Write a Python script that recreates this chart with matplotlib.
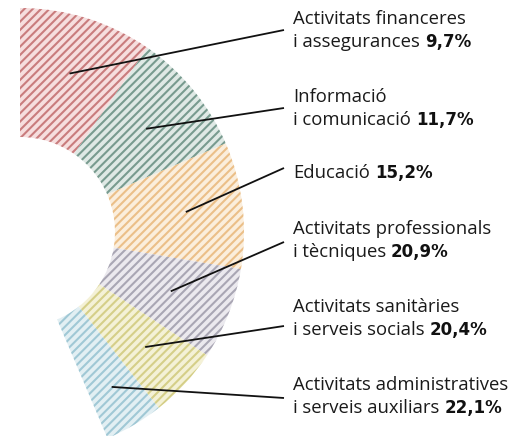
import numpy as np
import matplotlib
matplotlib.use("Agg")
import matplotlib.pyplot as plt

# ---- data ----
line1 = ["Activitats financeres", "Informació", "Educació", "Activitats professionals",
         "Activitats sanitàries", "Activitats administratives"]
line2 = ["i assegurances", "i comunicació", None, "i tècniques",
         "i serveis socials", "i serveis auxiliars"]
values = [9.7, 11.7, 15.2, 20.9, 20.4, 22.1]
value_labels = ["9,7%", "11,7%", "15,2%", "20,9%", "20,4%", "22,1%"]

# slice sizes as drawn in the graphic (top to bottom)
slice_sizes = values[::-1]

stripe_colors = ["#c97c7d", "#789b8f", "#ebbf88", "#a9a6b4", "#d5cf88", "#a0c8d5"]
bg_colors = ["#f6dede", "#dfe9e5", "#fbeedc", "#ebe9ee", "#f4f1d6", "#e2eff3"]

W, H = 524, 436
plt.rcParams["hatch.linewidth"] = 1.5
fig = plt.figure(figsize=(W / 100, H / 100), dpi=100)
ax = fig.add_axes([0, 0, 1, 1])

center = (20, H - 232)
r_out, r_in = 224, 95
span_deg = 157.0
frac = np.array(slice_sizes) / 100.0 * span_deg / 360.0

wedges, _ = ax.pie(frac, normalize=False, startangle=90, counterclock=False,
                   center=center, radius=r_out, colors=bg_colors,
                   wedgeprops=dict(width=r_out - r_in, linewidth=0))
for w, sc in zip(wedges, stripe_colors):
    w.set_hatch("////")
    w.set_edgecolor(sc)
    w.set_linewidth(0)
ax.set_xlim(0, W)
ax.set_ylim(0, H)
ax.set_aspect("equal")
ax.axis("off")

# leader lines and labels
label_x = 293
line_end_x = 284
line2_baselines = [47, 125, 178, 257, 335, 413]
leader_end_y = [30, 108, 168, 242, 326, 398]
leader_r = [166, 163, 167, 162, 170, 180]

fs = 13.3
fam = ["Open Sans", "DejaVu Sans"]
for i, w in enumerate(wedges):
    mid = np.deg2rad((w.theta1 + w.theta2) / 2)
    sx = center[0] + leader_r[i] * np.cos(mid)
    sy = center[1] + leader_r[i] * np.sin(mid)
    ax.plot([sx, line_end_x], [sy, H - leader_end_y[i]], color="#111111", lw=1.3,
            solid_capstyle="butt")

    b2 = H - line2_baselines[i]
    if line2[i] is None:
        t = ax.text(label_x, b2, line1[i], fontsize=fs, family=fam,
                    va="baseline", ha="left", color="#1a1a1a")
    else:
        ax.text(label_x, b2 + 23, line1[i], fontsize=fs, family=fam,
                va="baseline", ha="left", color="#1a1a1a")
        t = ax.text(label_x, b2, line2[i], fontsize=fs, family=fam,
                    va="baseline", ha="left", color="#1a1a1a")
    ax.annotate(value_labels[i], xy=(1, 0), xycoords=t, xytext=(3.5, 0),
                textcoords="offset points", fontsize=12, family="DejaVu Sans",
                fontweight="bold", va="bottom", ha="left", color="#111111")

fig.savefig("out.png", dpi=100)
